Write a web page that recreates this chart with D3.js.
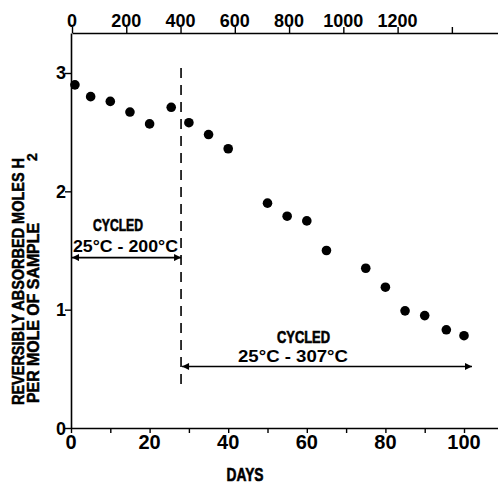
<!DOCTYPE html>
<html><head><meta charset="utf-8">
<script src="https://cdn.jsdelivr.net/npm/d3@7"></script>
<style>
html,body{margin:0;padding:0;background:#fff;}
svg{display:block;}
text{font-family:"Liberation Sans",Arial,Helvetica,sans-serif;font-weight:bold;fill:#000;}
</style></head><body>
<svg id="chart" width="498" height="484"></svg>
<script>
// Data
const days   = [1, 5, 10, 15, 20, 25.5, 30, 35, 40, 50, 55, 60, 65, 75, 80, 85, 90, 95.5, 100];
const moles  = [2.90, 2.80, 2.76, 2.67, 2.57, 2.71, 2.58, 2.48, 2.36, 1.90, 1.79, 1.75, 1.50, 1.35, 1.19, 0.99, 0.95, 0.83, 0.78];
const bottomTicks = [0, 20, 40, 60, 80, 100];
const bottomMinorTicks = [0, 10, 20, 30, 40, 50, 60, 70, 80, 90, 100];
const leftTicks = [0, 1, 2, 3];
const topTicks = [0, 200, 400, 600, 800, 1000, 1200, 1400];
const topTickLabels = ["0", "200", "400", "600", "800", "1000", "1200", ""];
const switchDay = 28;
const arrow1Y = 1.44, arrow2Y = 0.52;

(function () {
const svg = d3.select("#chart");
const mL = 71, mR = 498, mT = 33, mB = 428;

const x = d3.scaleLinear().domain([0, 108.65]).range([mL, mR]);
const y = d3.scaleLinear().domain([0, 3.338]).range([mB, mT]);
const xTop = d3.scaleLinear().domain([0, 1570]).range([72, mR]);

// bottom axis
const gB = svg.append("g").attr("transform", `translate(0,${mB})`)
  .call(d3.axisBottom(x).tickValues(bottomMinorTicks).tickSize(5).tickSizeOuter(0).tickFormat(""));
gB.select(".domain").attr("stroke-width", 1.6);
gB.selectAll(".tick line").attr("stroke-width", 1.4);
svg.append("g").selectAll("text").data(bottomTicks).join("text")
  .attr("x", d => x(d)).attr("y", 449).attr("text-anchor", "middle")
  .attr("font-size", 20).text(d => d);

// left axis
const gL = svg.append("g").attr("transform", `translate(${mL},0)`)
  .call(d3.axisLeft(y).tickValues(leftTicks).tickSize(6).tickSizeOuter(0).tickFormat(""));
gL.select(".domain").attr("stroke-width", 1.6);
gL.selectAll(".tick line").attr("stroke-width", 1.4);
svg.append("g").selectAll("text").data(leftTicks).join("text")
  .attr("x", 66).attr("y", d => y(d) + 6.5).attr("text-anchor", "end")
  .attr("font-size", 18).text(d => d);

// top axis
const gT = svg.append("g").attr("transform", `translate(0,${mT})`)
  .call(d3.axisTop(xTop).tickValues(topTicks).tickSize(6).tickSizeOuter(0).tickFormat(""));
gT.select(".domain").attr("stroke-width", 1.6);
gT.selectAll(".tick line").attr("stroke-width", 1.4);
svg.append("g").selectAll("text").data(topTicks).join("text")
  .attr("x", d => xTop(d)).attr("y", 27).attr("text-anchor", "middle")
  .attr("font-size", 18).text((d, i) => topTickLabels[i]);

// dashed vertical line
svg.append("line")
  .attr("x1", x(switchDay)).attr("x2", x(switchDay))
  .attr("y1", 68).attr("y2", 390)
  .attr("stroke", "#000").attr("stroke-width", 1.6).attr("stroke-dasharray", "10,7");

// arrows
const defs = svg.append("defs");
defs.append("marker").attr("id", "ah").attr("viewBox", "0 0 10 10")
  .attr("refX", 10).attr("refY", 5).attr("markerWidth", 9).attr("markerHeight", 7)
  .attr("markerUnits", "userSpaceOnUse").attr("orient", "auto-start-reverse")
  .append("path").attr("d", "M0,0 L10,5 L0,10 Z").attr("fill", "#000");

function arrow(x1, x2, yv) {
  svg.append("line").attr("x1", x1).attr("x2", x2)
    .attr("y1", y(yv)).attr("y2", y(yv))
    .attr("stroke", "#000").attr("stroke-width", 1.6)
    .attr("marker-start", "url(#ah)").attr("marker-end", "url(#ah)");
}
arrow(x(0) + 1, x(switchDay), arrow1Y);
arrow(x(switchDay) + 1, 472, arrow2Y);

// annotation texts
function ctext(t, cx, by, len, fs, sw) {
  svg.append("text").attr("x", cx).attr("y", by).attr("text-anchor", "middle")
    .attr("font-size", fs).attr("textLength", len).attr("lengthAdjust", "spacingAndGlyphs")
    .attr("stroke", sw ? "#000" : null).attr("stroke-width", sw || null)
    .text(t);
}
ctext("CYCLED", 118, 231, 50, 16, 0.6);
ctext("25°C - 200°C", 125.5, 252, 105, 16);
ctext("CYCLED", 303.5, 343, 53, 16, 0.6);
ctext("25°C - 307°C", 293, 362, 110, 16);

// axis titles
ctext("DAYS", 245, 481, 37, 18, 0.6);

svg.append("text").attr("transform", "translate(24,405) rotate(-90)")
  .attr("text-anchor", "start").attr("font-size", 16)
  .attr("stroke", "#000").attr("stroke-width", 0.5)
  .attr("textLength", 247).attr("lengthAdjust", "spacingAndGlyphs")
  .text("REVERSIBLY ABSORBED MOLES H");
svg.append("text").attr("transform", "translate(37,161) rotate(-90)")
  .attr("text-anchor", "start").attr("font-size", 14)
  .attr("stroke", "#000").attr("stroke-width", 0.4)
  .text("2");
svg.append("text").attr("transform", "translate(39,403) rotate(-90)")
  .attr("text-anchor", "start").attr("font-size", 16)
  .attr("stroke", "#000").attr("stroke-width", 0.5)
  .attr("textLength", 180).attr("lengthAdjust", "spacingAndGlyphs")
  .text("PER MOLE OF SAMPLE");

// points
svg.append("g").selectAll("circle").data(days).join("circle")
  .attr("cx", d => x(d)).attr("cy", (d, i) => y(moles[i])).attr("r", 4.8)
  .attr("fill", "#000");
})();
</script>
</body></html>
